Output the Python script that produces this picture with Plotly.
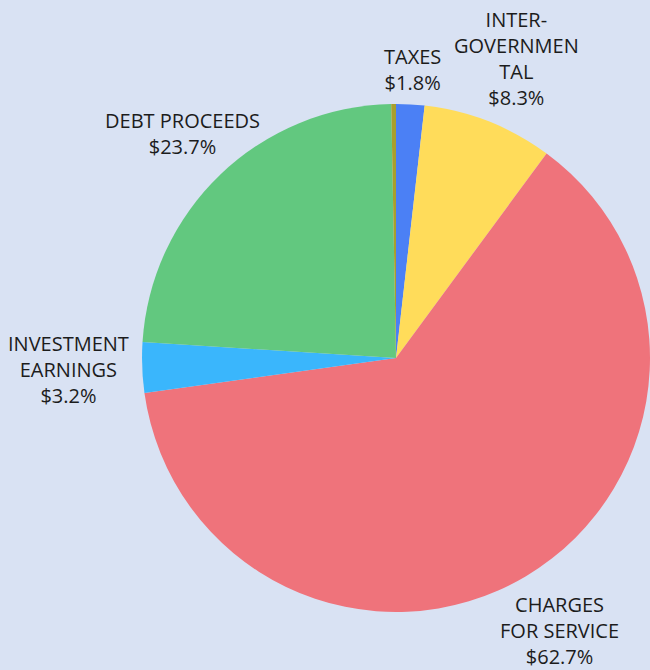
import plotly.graph_objects as go

# Revenue sources, clockwise from 12 o'clock
labels = ["TAXES", "INTER-<br>GOVERNMEN<br>TAL", "CHARGES<br>FOR SERVICE",
          "INVESTMENT<br>EARNINGS", "DEBT PROCEEDS", "OTHER"]
shares = [1.8, 8.3, 62.7, 3.2, 23.7, 0.3]
show_label = [True, True, True, True, True, False]
colors = ["#4b80f5", "#ffdc5a", "#ef737b", "#3ab6fc", "#62c87f", "#a99f2c"]

# Label centres in pixels (x from left, y from top) of the 650x670 canvas
label_px = [(412, 70), (516, 58), (559, 630), (68, 369), (183, 133), None]

W, H = 650, 670

fig = go.Figure(go.Pie(
    labels=labels,
    values=shares,
    textinfo="none",
    sort=False,
    direction="clockwise",
    rotation=0,
    marker=dict(colors=colors, line=dict(width=0)),
    domain=dict(x=[0.2185, 1.0], y=[0.0821, 0.8493]),
    showlegend=False,
    hoverinfo="label+percent",
))

for lab, v, s, pos in zip(labels, shares, show_label, label_px):
    if not s:
        continue
    fig.add_annotation(
        x=pos[0] / W, y=1 - pos[1] / H, xref="paper", yref="paper",
        text=f"{lab}<br>${v}%", showarrow=False,
        xanchor="center", yanchor="middle", align="center",
        borderpad=0,
        font=dict(family="Open Sans", size=20, color="#1c1c1c"),
    )

fig.update_layout(
    width=W, height=H,
    margin=dict(l=0, r=0, t=0, b=0),
    paper_bgcolor="#d9e2f3",
    plot_bgcolor="#d9e2f3",
)

fig.write_html("out.html")
